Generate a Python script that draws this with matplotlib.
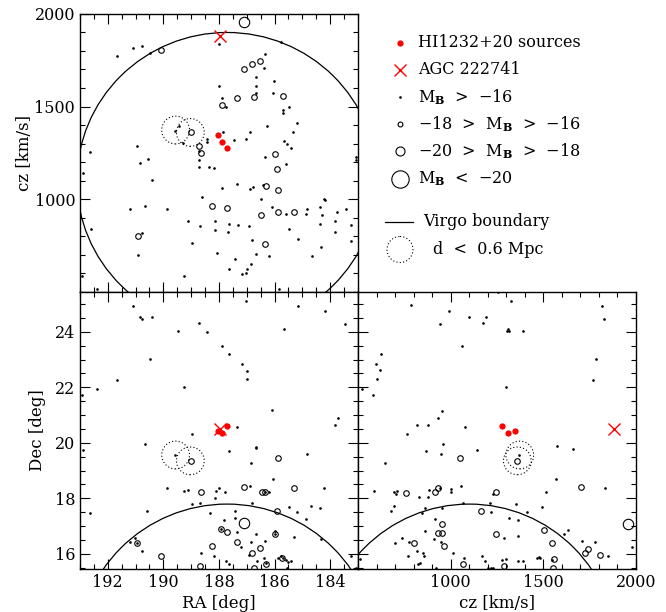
import matplotlib
matplotlib.use("Agg")
import matplotlib.pyplot as plt
from matplotlib.patches import Ellipse
from matplotlib.ticker import MultipleLocator, FixedLocator

plt.rcParams["font.family"] = "DejaVu Serif"
plt.rcParams["mathtext.fontset"] = "dejavuserif"

# ---- data ----
# HI1232+20 sources and AGC 222741
hi_ra = [188.02, 187.88, 187.70]
hi_dec = [20.43, 20.35, 20.60]
hi_cz = [1348, 1310, 1277]
agc_ra = [187.96]
agc_dec = [20.50]
agc_cz = [1882]

# galaxies enclosed by the d < 0.6 Mpc circles
pair_ra = [189.56, 189.03]
pair_dec = [19.56, 19.35]
pair_cz = [1373, 1360]
pair_r_deg = 0.5
pair_r_cz = 75

# Virgo boundary (centred on M87)
virgo_ra, virgo_dec, virgo_cz = 187.71, 12.39, 1100
virgo_r_deg, virgo_r_cz = 5.4, 800

# RA - cz panel
top_dots = [(191.66, 1773), (191.08, 1818), (190.76, 1827), (190.48, 1787), (187.99, 1836),
            (185.77, 1850), (186.35, 1784), (186.37, 1708), (186.67, 1661), (186.67, 1611),
            (186.68, 1571), (186.02, 1640), (186.07, 1571), (188.00, 1613), (187.90, 1548),
            (187.75, 1499), (185.71, 1481), (185.71, 1463), (185.49, 1495), (185.21, 1413),
            (185.33, 1360), (186.29, 1395), (186.89, 1364), (187.04, 1324), (187.45, 1319),
            (187.84, 1360), (185.66, 1315), (185.54, 1297), (185.41, 1274), (185.60, 1187),
            (186.35, 1229), (188.44, 1322), (188.44, 1306), (189.28, 1301), (189.58, 1369),
            (189.44, 1395), (188.71, 1261), (188.71, 1211), (188.71, 1175), (188.35, 1175),
            (188.17, 1169), (190.96, 1288), (190.84, 1193), (190.57, 1216), (190.42, 1101),
            (192.64, 1256), (192.88, 1142), (192.62, 841), (192.94, 582), (192.40, 517),
            (191.20, 946), (190.66, 962), (189.86, 944), (189.10, 883), (188.96, 764),
            (188.62, 1012), (188.68, 857), (188.14, 881), (188.14, 832), (188.08, 708),
            (187.90, 1058), (187.63, 865), (187.66, 823), (187.34, 1079), (187.30, 859),
            (187.42, 677), (187.63, 623), (187.18, 594), (187.00, 620), (187.03, 602),
            (186.85, 647), (186.67, 703), (186.83, 778), (186.91, 854), (186.79, 1067),
            (186.89, 1054), (186.49, 998), (186.41, 1076), (186.19, 692), (186.08, 955),
            (185.60, 922), (184.83, 944), (184.86, 917), (184.35, 955), (184.31, 912),
            (183.74, 931), (183.44, 944), (185.47, 836), (185.17, 784), (184.38, 865),
            (183.82, 881), (183.82, 822), (183.26, 859), (183.26, 773), (184.32, 739),
            (184.67, 692), (183.08, 1229), (183.08, 1211), (184.22, 1003), (184.18, 994),
            (185.84, 517), (190.76, 818), (190.93, 697), (189.26, 585)]
top_small = [(190.09, 1805), (187.11, 1703), (186.81, 1728), (186.51, 1744), (187.34, 1548),
             (186.74, 1553), (185.71, 1558), (187.90, 1506), (189.02, 1360), (188.71, 1288),
             (188.64, 1247), (185.99, 1245), (185.90, 1160), (185.87, 1049), (186.31, 1072),
             (188.26, 964), (187.70, 951), (186.48, 913), (185.89, 930), (185.30, 930),
             (190.93, 800), (186.35, 757)]
top_mid = [(187.10, 1957)]

# RA - Dec panel
bl_dots = [(191.08, 24.92), (190.84, 24.53), (190.76, 24.47), (190.41, 24.52), (188.71, 24.33),
           (189.49, 24.05), (188.42, 23.99), (187.04, 25.10), (185.17, 24.95), (184.19, 24.74),
           (183.47, 24.27), (185.65, 24.10), (187.90, 23.49), (187.64, 23.21), (190.48, 23.03),
           (187.18, 22.83), (187.00, 22.59), (187.00, 22.29), (189.25, 22.02), (191.66, 22.25),
           (192.40, 21.93), (192.94, 21.74), (186.08, 21.18), (183.83, 20.66), (183.73, 20.90),
           (187.36, 20.58), (188.96, 20.31), (190.66, 19.95), (192.88, 19.74), (189.58, 19.56),
           (187.63, 19.70), (186.68, 19.86), (186.68, 19.80), (184.85, 19.59), (186.85, 19.26),
           (186.05, 18.69), (184.21, 18.36), (189.88, 18.38), (189.25, 18.26), (189.10, 18.31),
           (188.10, 18.26), (188.01, 18.36), (187.77, 18.21), (188.16, 18.02), (186.90, 18.44),
           (186.36, 18.21), (186.21, 18.21), (188.97, 17.78), (188.70, 17.82), (186.80, 17.82),
           (188.34, 17.46), (192.63, 17.48), (190.58, 17.54), (185.48, 17.67), (185.19, 17.49),
           (184.68, 17.72), (184.35, 17.64), (184.86, 17.24), (187.83, 17.22), (187.44, 17.30),
           (187.41, 17.54), (187.34, 16.80), (186.66, 16.70), (186.33, 16.46), (186.00, 16.83),
           (185.31, 16.62), (184.32, 16.53), (183.26, 15.92), (187.20, 16.26), (186.84, 16.44),
           (186.93, 15.96), (186.38, 15.84), (187.74, 15.74), (187.64, 15.62), (186.62, 15.72),
           (186.32, 15.66), (185.88, 15.86), (185.78, 15.90), (185.69, 15.84), (185.60, 15.78),
           (185.52, 15.69), (185.42, 15.74), (185.54, 15.50), (191.21, 16.44), (191.01, 16.56),
           (190.76, 16.10), (188.18, 15.92), (188.66, 16.04), (183.07, 15.50), (190.94, 16.40),
           (187.92, 16.88), (185.97, 16.70)]
bl_small = [(188.64, 18.21), (190.94, 16.40), (190.07, 15.93), (188.25, 16.28), (188.70, 15.57),
            (187.92, 16.88), (187.10, 18.42), (186.47, 18.24), (186.33, 18.21), (185.30, 18.38),
            (185.90, 17.54), (187.70, 16.77), (187.34, 16.41), (185.97, 16.70), (186.51, 16.20),
            (186.81, 16.02), (186.30, 15.62), (186.75, 15.50), (185.72, 15.86), (189.02, 19.34),
            (185.87, 19.44)]
bl_mid = [(187.11, 17.10)]

# cz - Dec panel
br_dots = [(784, 24.98), (993, 24.74), (943, 24.27), (1099, 24.53), (1173, 24.33), (1191, 24.53),
           (1257, 25.43), (1324, 25.10), (1302, 24.02), (1317, 24.02), (1309, 24.09), (1392, 24.05),
           (1059, 23.49), (1815, 24.92), (1828, 24.47), (1784, 23.03), (1770, 22.25), (622, 23.21),
           (595, 22.83), (619, 22.61), (601, 22.29), (583, 21.74), (520, 21.93), (1297, 22.02),
           (952, 21.15), (934, 20.91), (1077, 20.58), (880, 20.66), (820, 20.66), (763, 20.31),
           (867, 19.70), (961, 19.95), (946, 19.59), (1140, 19.74), (646, 19.28), (1572, 19.87),
           (1658, 19.77), (1567, 18.69), (1833, 18.36), (1515, 18.24), (586, 18.27), (696, 18.21),
           (709, 18.26), (703, 18.14), (829, 18.03), (880, 18.03), (883, 18.30), (943, 18.38),
           (1002, 18.33), (1002, 18.24), (1054, 18.44), (678, 17.54), (694, 17.72), (844, 17.48),
           (862, 17.66), (955, 17.66), (1068, 17.82), (1212, 17.82), (1218, 17.52), (1227, 18.14),
           (916, 17.24), (862, 16.82), (912, 16.53), (948, 16.41), (700, 16.40), (739, 16.56),
           (775, 16.44), (817, 16.10), (853, 16.02), (858, 15.93), (772, 15.92), (1011, 16.04),
           (1072, 15.86), (1167, 15.93), (1185, 15.74), (822, 15.63), (835, 15.66), (919, 15.48),
           (511, 15.81), (1203, 15.50), (1218, 15.50), (1230, 15.50), (1351, 17.78), (1410, 17.49),
           (1495, 17.68), (1317, 17.30), (1362, 17.22), (1635, 16.86), (1612, 16.70), (1286, 16.58),
           (1362, 16.63), (1707, 16.46), (1779, 16.44), (1977, 16.25), (1851, 15.92), (1275, 15.78),
           (1297, 15.81), (1365, 15.74), (1392, 15.72), (1464, 15.86), (1477, 15.89), (1482, 15.84),
           (1549, 15.77), (1370, 19.56)]
br_small = [(1050, 19.44), (1360, 19.34), (1702, 18.42), (934, 18.38), (916, 18.24), (757, 18.20),
            (1245, 18.21), (1164, 17.54), (955, 17.06), (800, 16.40), (930, 16.73), (951, 16.76),
            (966, 16.28), (1068, 15.62), (1245, 16.70), (1506, 16.86), (1549, 16.40), (1739, 16.17),
            (1725, 16.04), (1806, 15.95), (1559, 15.81), (1554, 15.48), (1288, 15.57)]
br_mid = [(1955, 17.07)]

legend_labels = ["HI1232+20 sources", "AGC 222741", r"M$_{\mathbf{B}}$  >  $-$16",
                 r"$-$18  >  M$_{\mathbf{B}}$  >  $-$16", r"$-$20  >  M$_{\mathbf{B}}$  >  $-$18",
                 r"M$_{\mathbf{B}}$  <  $-$20", "Virgo boundary", "d  <  0.6 Mpc"]

RA_LIM = (193.0, 183.0)
CZ_LIM = (500, 2000)
DEC_LIM = (15.45, 25.45)


def style(ax):
    ax.tick_params(which="both", direction="in", top=True, right=True, labelsize=11.5)
    ax.tick_params(which="major", length=7, width=0.8)
    ax.tick_params(which="minor", length=3.8, width=0.8)
    for s in ax.spines.values():
        s.set_linewidth(1.0)


def draw(ax, dots, small, mid, xs, ys, px, py, prx, pry, vx, vy, vrx, vry):
    ax.plot([p[0] for p in dots], [p[1] for p in dots], "o", color="k", ms=1.9, mew=0, zorder=3)
    ax.plot([p[0] for p in small], [p[1] for p in small], "o", mfc="none", mec="k", ms=4.0, mew=0.8, zorder=3)
    ax.plot([p[0] for p in mid], [p[1] for p in mid], "o", mfc="none", mec="k", ms=7.5, mew=0.8, zorder=3)
    for cx, cy in zip(px, py):
        ax.add_patch(Ellipse((cx, cy), 2 * prx, 2 * pry, fill=False, ls=(0, (1, 2)), lw=0.8, color="k"))
    ax.add_patch(Ellipse((vx, vy), 2 * vrx, 2 * vry, fill=False, lw=0.9, color="k"))
    ax.plot(xs[0], xs[1], "o", color="red", ms=4.5, mew=0, zorder=4)
    ax.plot(ys[0], ys[1], "x", color="red", ms=8, mew=1.0, zorder=4)


fig = plt.figure(figsize=(6.66, 6.12), dpi=100)
ax_top = fig.add_axes([0.1201, 0.5234, 0.4174, 0.4538])
ax_bl = fig.add_axes([0.1201, 0.0703, 0.4174, 0.4531])
ax_br = fig.add_axes([0.5375, 0.0703, 0.4174, 0.4531])

draw(ax_top, top_dots, top_small, top_mid, (hi_ra, hi_cz), (agc_ra, agc_cz),
     pair_ra, pair_cz, pair_r_deg, pair_r_cz, virgo_ra, virgo_cz, virgo_r_deg, virgo_r_cz)
ax_top.set_xlim(*RA_LIM)
ax_top.set_ylim(*CZ_LIM)
ax_top.xaxis.set_major_locator(MultipleLocator(2))
ax_top.xaxis.set_minor_locator(MultipleLocator(0.5))
ax_top.yaxis.set_major_locator(FixedLocator([1000, 1500, 2000]))
ax_top.yaxis.set_minor_locator(MultipleLocator(100))
ax_top.set_xticklabels([])
ax_top.set_ylabel("cz [km/s]", fontsize=12, labelpad=1)
style(ax_top)

draw(ax_bl, bl_dots, bl_small, bl_mid, (hi_ra, hi_dec), (agc_ra, agc_dec),
     pair_ra, pair_dec, pair_r_deg, pair_r_deg, virgo_ra, virgo_dec, virgo_r_deg, virgo_r_deg)
ax_bl.set_xlim(*RA_LIM)
ax_bl.set_ylim(*DEC_LIM)
ax_bl.xaxis.set_major_locator(MultipleLocator(2))
ax_bl.xaxis.set_minor_locator(MultipleLocator(0.5))
ax_bl.yaxis.set_major_locator(MultipleLocator(2))
ax_bl.yaxis.set_minor_locator(MultipleLocator(0.5))
ax_bl.set_xlabel("RA [deg]", fontsize=12, labelpad=3)
ax_bl.set_ylabel("Dec [deg]", fontsize=12, labelpad=6)
style(ax_bl)

draw(ax_br, br_dots, br_small, br_mid, (hi_cz, hi_dec), (agc_cz, agc_dec),
     pair_cz, pair_dec, pair_r_cz, pair_r_deg, virgo_cz, virgo_dec, virgo_r_cz, virgo_r_deg)
ax_br.set_xlim(*CZ_LIM)
ax_br.set_ylim(*DEC_LIM)
ax_br.xaxis.set_major_locator(FixedLocator([1000, 1500, 2000]))
ax_br.xaxis.set_minor_locator(MultipleLocator(100))
ax_br.yaxis.set_major_locator(MultipleLocator(2))
ax_br.yaxis.set_minor_locator(MultipleLocator(0.5))
ax_br.set_yticklabels([])
ax_br.set_xlabel("cz [km/s]", fontsize=12, labelpad=3)
style(ax_br)

# legend, laid out in figure pixels
leg = fig.add_axes([0, 0, 1, 1], zorder=-1)
leg.set_xlim(0, 666)
leg.set_ylim(612, 0)
leg.axis("off")
rows = [42.7, 70, 97, 124, 151, 179]
leg.plot(400, rows[0], "o", color="red", ms=4.5, mew=0)
leg.plot(400, rows[1], "x", color="red", ms=8, mew=1.0)
leg.plot(400, rows[2], "o", color="k", ms=1.9, mew=0)
leg.plot(400, rows[3], "o", mfc="none", mec="k", ms=3.5, mew=0.8)
leg.plot(400, rows[4], "o", mfc="none", mec="k", ms=6.5, mew=0.8)
leg.plot(400, rows[5], "o", mfc="none", mec="k", ms=12.5, mew=0.8)
for y, lab in zip(rows, legend_labels[:6]):
    leg.text(418, y, lab, fontsize=11.5, va="center", ha="left")
leg.plot([385, 413], [221.7, 221.7], color="k", lw=0.9)
leg.text(423, 221.7, legend_labels[6], fontsize=11.5, va="center", ha="left")
leg.add_patch(Ellipse((400, 249.5), 26, 26, fill=False, ls=(0, (1, 2)), lw=0.8, color="k"))
leg.text(433, 249.5, legend_labels[7], fontsize=11.5, va="center", ha="left")

fig.savefig("out.png", dpi=100)
